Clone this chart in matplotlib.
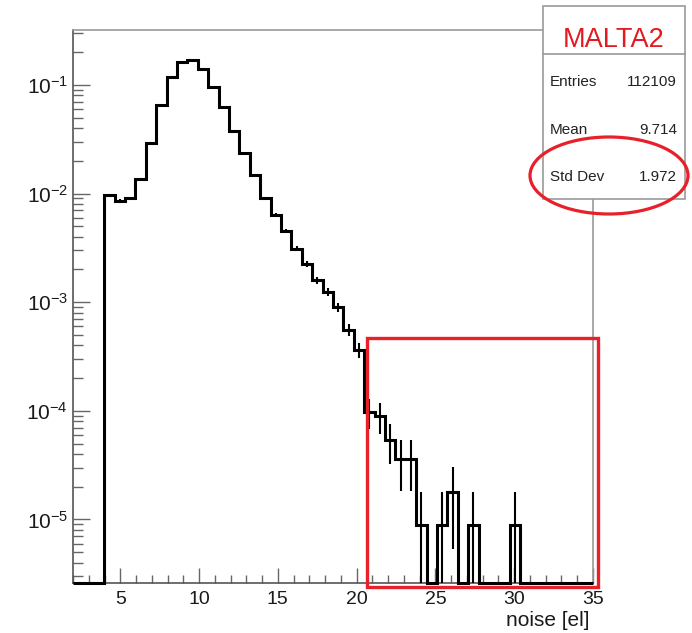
import numpy as np
import matplotlib
matplotlib.use("Agg")
import matplotlib.pyplot as plt
from matplotlib.patches import Rectangle, Ellipse
from matplotlib.lines import Line2D
from matplotlib.ticker import MultipleLocator, LogLocator, NullFormatter

plt.rcParams["font.family"] = ["Liberation Sans", "DejaVu Sans"]
plt.rcParams["mathtext.fontset"] = "custom"
plt.rcParams["mathtext.rm"] = "Liberation Sans"
plt.rcParams["mathtext.it"] = "Liberation Sans:italic"

# histogram binning: 50 bins from 2 to 35
X_MIN, X_MAX, N_BINS = 2, 35, 50
Y_MIN, Y_MAX = 2.6e-6, 0.32

# normalised bin contents, left to right
fractions = [
    0, 0, 0,
    9.6e-3, 8.6e-3, 9.1e-3, 1.36e-2, 2.9e-2, 6.55e-2, 0.118, 0.162, 0.170,
    0.140, 0.0965, 0.063, 0.0378, 0.0235, 0.0147, 9.1e-3, 6.4e-3, 4.5e-3,
    3.1e-3, 2.25e-3, 1.6e-3, 1.24e-3, 9.0e-4, 5.6e-4, 3.65e-4,
    9.8e-5, 8.9e-5, 5.4e-5, 3.6e-5, 3.6e-5, 8.9e-6, 0, 8.9e-6, 1.8e-5,
    0, 8.9e-6, 0, 0, 0, 8.9e-6,
    0, 0, 0, 0, 0, 0, 0,
]
n_entries = 112109

x_ticks = [5, 10, 15, 20, 25, 30, 35]
x_label = "noise [el]"
box_title = "MALTA2"
stat_names = ["Entries", "Mean", "Std Dev"]
stat_values = ["112109", "9.714", "1.972"]

W, H = 692, 633


def fx(px):
    return px / W


def fy(py):
    return 1 - py / H


fig = plt.figure(figsize=(W / 100, H / 100), dpi=100)
ax = fig.add_axes([fx(73), fy(583), (593 - 73) / W, (583 - 30) / H])

edges = np.linspace(X_MIN, X_MAX, N_BINS + 1)
vals = np.array(fractions, dtype=float)
centers = 0.5 * (edges[:-1] + edges[1:])

ax.stairs(np.clip(vals, Y_MIN, None), edges, baseline=None,
          color="black", lw=2.2, clip_on=False, zorder=3)

# poisson error bars
err = np.sqrt(vals / n_entries)
mask = vals > 0
ax.vlines(centers[mask], np.clip(vals - err, Y_MIN, None)[mask],
          (vals + err)[mask], color="black", lw=1.5, zorder=3)

ax.set_yscale("log")
ax.set_xlim(X_MIN, X_MAX)
ax.set_ylim(Y_MIN, Y_MAX)

ax.set_xticks(x_ticks)
ax.xaxis.set_minor_locator(MultipleLocator(1))
ax.yaxis.set_major_locator(LogLocator(base=10, numticks=12))
ax.yaxis.set_minor_locator(LogLocator(base=10, subs=np.arange(2, 10), numticks=12))
ax.yaxis.set_minor_formatter(NullFormatter())

ax.tick_params(which="both", direction="in", top=False, right=False,
               color="#666666", labelcolor="#1a1a1a")
ax.tick_params(axis="x", which="major", length=10.5, width=1.0, labelsize=14, pad=6)
ax.tick_params(axis="x", which="minor", length=5.5, width=1.0)
ax.tick_params(axis="y", which="major", length=12.5, width=1.0, labelsize=15, pad=3.5)
ax.tick_params(axis="y", which="minor", length=7, width=1.0)

for side in ["left", "bottom"]:
    ax.spines[side].set_color("#555555")
    ax.spines[side].set_linewidth(1.2)
for side in ["top", "right"]:
    ax.spines[side].set_color("#999999")
    ax.spines[side].set_linewidth(1.2)

fig.text(fx(590), fy(621), x_label, ha="right", va="center",
         fontsize=15, color="#1a1a1a")

# stats box
fig.add_artist(Rectangle((fx(543), fy(199)), (685 - 543) / W, (199 - 6) / H,
                         transform=fig.transFigure, facecolor="white",
                         edgecolor="#9a9a9a", lw=1.2, zorder=5))
fig.add_artist(Line2D([fx(543), fx(685)], [fy(54), fy(54)],
                      transform=fig.transFigure, color="#9a9a9a", lw=1.2, zorder=6))
fig.text(fx(614), fy(47), box_title, ha="center", va="baseline",
         fontsize=19.5, color="#e01b22", zorder=7)
for name, value, base in zip(stat_names, stat_values, [85.5, 133.5, 180.5]):
    fig.text(fx(550), fy(base), name, ha="left", va="baseline",
             fontsize=11, color="#222222", zorder=7)
    fig.text(fx(677), fy(base), value, ha="right", va="baseline",
             fontsize=11, color="#222222", zorder=7)

# red highlights
fig.add_artist(Ellipse((fx(609), fy(175.5)), 158 / W, 77 / H,
                       transform=fig.transFigure, fill=False,
                       edgecolor="#e8202a", lw=2.3, zorder=8))
fig.add_artist(Rectangle((fx(367), fy(587)), (598 - 367) / W, (587 - 338) / H,
                         transform=fig.transFigure, fill=False,
                         edgecolor="#e8202a", lw=2.4, zorder=8))

fig.savefig("out.png", dpi=100)
